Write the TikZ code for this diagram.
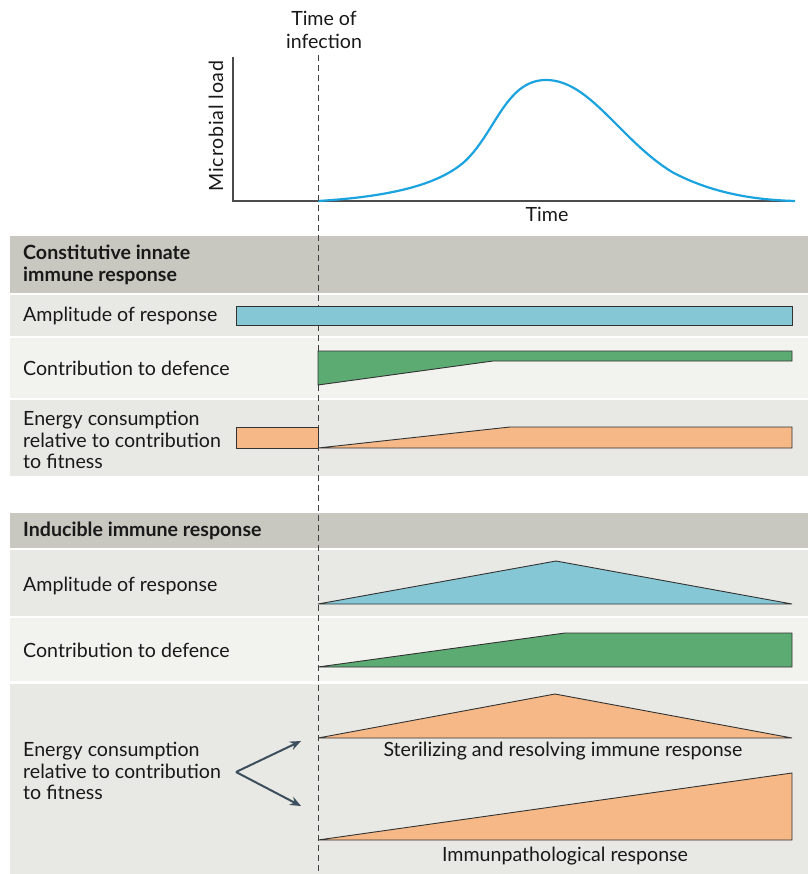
\documentclass[tikz,border=0pt]{standalone}
\usepackage{fontspec}
\setmainfont{Lato}
\newfontfamily\spacedfont[LetterSpace=4]{Lato}
\usetikzlibrary{arrows.meta}
\definecolor{hdr}{HTML}{C8C8C0}
\definecolor{rowa}{HTML}{E8E8E4}
\definecolor{rowb}{HTML}{F2F2EE}
\definecolor{cblue}{HTML}{86C7D6}
\definecolor{cgreen}{HTML}{5CAB73}
\definecolor{corange}{HTML}{F5B886}
\definecolor{curve}{HTML}{1BA3E0}
\definecolor{edge}{HTML}{333333}
\definecolor{arr}{HTML}{3D4F5C}
\tikzset{
  lbl/.style={anchor=west, inner sep=0pt, font=\fontsize{19.6}{21.5}\selectfont, align=left, text=black!90},
  hlbl/.style={lbl, font=\fontsize{19.6}{21.5}\selectfont\bfseries},
  shp/.style={draw=edge, line width=0.9pt, line join=miter},
  axis/.style={draw=black!70, line width=1.1pt},
  tlbl/.style={inner sep=0pt, font=\fontsize{19.6}{22.5}\selectfont, text=black!90}
}
\begin{document}
\begin{tikzpicture}[x=1pt,y=-1pt]
\useasboundingbox (0,0) rectangle (808,874);
\fill[white] (0,0) rectangle (808,874);
% bands
\fill[hdr]  (10,236) rectangle (808,293);
\fill[rowa] (10,295) rectangle (808,336);
\fill[rowb] (10,338) rectangle (808,398);
\fill[rowa] (10,400) rectangle (808,476);
\fill[hdr]  (10,513) rectangle (808,548);
\fill[rowa] (10,550) rectangle (808,616);
\fill[rowb] (10,618) rectangle (808,681);
\fill[rowa] (10,684) rectangle (808,874);
% top chart
\draw[axis] (233,57) -- (233,201) -- (795,201);
\draw[curve, line width=2.2pt] (318,201) .. controls (400,196) and (440,182) .. (463,163)
  .. controls (495,135) and (505,80) .. (546,80)
  .. controls (590,80) and (620,140) .. (672,172)
  .. controls (715,195) and (760,200) .. (795,201);
\node[tlbl, rotate=90, font=\fontsize{19.6}{22}\spacedfont] (ml) at (216,126) {Microbial load};
\node[tlbl] (tm) at (547,214) {Time};
\node[tlbl, align=center] (toi) at (324,30) {Time of\\infection};
% dashed line
\coordinate (dtop) at (318,55);
\coordinate (dbot) at (318,874);
\draw[black!75, line width=0.9pt, dash pattern=on 6pt off 4pt] (dtop) -- (dbot);
% constitutive
\node[hlbl] (h1) at (23,265) {Constitutive innate\\immune response};
\node[lbl] (c1) at (23,316) {Amplitude of response};
\node[lbl] (c2) at (23,368) {Contribution to defence};
\node[lbl] (c3) at (23,440) {Energy consumption\\relative to contribution\\to fitness};
\draw[shp, fill=cblue] (236,306) rectangle (792,325);
\draw[shp, fill=cgreen] (318,385) -- (318,351) -- (792,351) -- (792,361) -- (493,361) -- cycle;
\draw[shp, fill=corange] (236,427) rectangle (318,448);
\draw[shp, fill=corange] (318,448) -- (510,427) -- (792,427) -- (792,448) -- cycle;
% inducible
\node[hlbl] (h2) at (23,531) {Inducible immune response};
\node[lbl] (i1) at (23,586) {Amplitude of response};
\node[lbl] (i2) at (23,650) {Contribution to defence};
\node[lbl] (i3) at (23,771) {Energy consumption\\relative to contribution\\to fitness};
\draw[shp, fill=cblue] (318,604) -- (556,561) -- (792,604) -- cycle;
\draw[shp, fill=cgreen] (318,667) -- (565,633) -- (792,633) -- (792,667) -- cycle;
\draw[shp, fill=corange] (318,738) -- (555,694) -- (792,738) -- cycle;
\draw[shp, fill=corange] (318,840) -- (792,773) -- (792,840) -- cycle;
\node[tlbl] (s1) at (563,751) {Sterilizing and resolving immune response};
\node[tlbl] (s2) at (565,856) {Immunpathological response};
% arrows
\coordinate (av) at (236,772);
\coordinate (au) at (301,741);
\coordinate (ad) at (301,806);
\draw[arr, line width=2pt, -{Stealth[length=11pt,width=9pt]}] (av) -- (au);
\draw[arr, line width=2pt, -{Stealth[length=11pt,width=9pt]}] (av) -- (ad);
\end{tikzpicture}
\end{document}
